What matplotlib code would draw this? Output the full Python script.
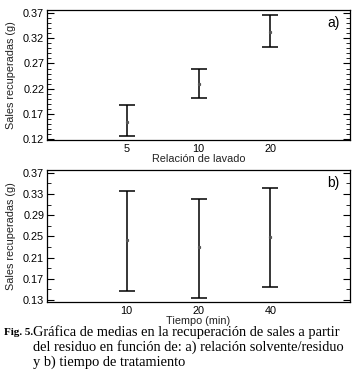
import numpy as np
import matplotlib
matplotlib.use('Agg')
import matplotlib.pyplot as plt
from matplotlib.ticker import FixedLocator, FormatStrFormatter

plt.rcParams['font.family'] = ['Liberation Sans', 'DejaVu Sans']

# datos
rel_lavado = ['5', '10', '20']
media_a = [0.1536, 0.2298, 0.3325]
inf_a = [0.1265, 0.2010, 0.3017]
sup_a = [0.1870, 0.2600, 0.3650]

tiempo = ['10', '20', '40']
media_b = [0.2439, 0.2300, 0.2490]
inf_b = [0.1466, 0.1332, 0.1543]
sup_b = [0.3367, 0.3214, 0.3406]

# marcas del eje y
ticks_a = [0.12, 0.17, 0.22, 0.27, 0.32, 0.37]
ticks_b = [0.13, 0.17, 0.21, 0.25, 0.29, 0.33, 0.37]

fig = plt.figure(figsize=(3.55, 3.87), dpi=100)
ax1 = fig.add_axes([0.1324, 0.638, 0.8536, 0.336])
ax2 = fig.add_axes([0.1324, 0.2204, 0.8536, 0.3406])


def panel(ax, cats, med, lo, hi, ylim, ticks, nmin, xlabel, tag):
    x = np.arange(1, len(cats) + 1)
    med = np.array(med)
    err = [med - np.array(lo), np.array(hi) - med]
    ax.errorbar(x, med, yerr=err, fmt='none', ecolor='black', elinewidth=1.1,
                capsize=6, capthick=1.1)
    ax.plot(x, med, ls='none', marker='s', ms=1.3, color='#555555')
    ax.set_xlim(-0.105, 4.105)
    ax.set_ylim(*ylim)
    ax.set_xticks(x)
    ax.set_xticklabels(cats)
    ax.tick_params(axis='x', length=0, labelsize=7.8, pad=3)
    paso = (ticks[1] - ticks[0]) / nmin
    menores = np.arange(ticks[0] - 3 * paso, ticks[-1] + 3 * paso, paso)
    ax.yaxis.set_major_locator(FixedLocator(ticks))
    ax.yaxis.set_minor_locator(FixedLocator(menores))
    ax.yaxis.set_major_formatter(FormatStrFormatter('%.2f'))
    ax.tick_params(axis='y', which='both', direction='in', right=True, labelsize=7.8, pad=2)
    ax.tick_params(axis='y', which='major', length=5)
    ax.tick_params(axis='y', which='minor', length=3)
    ax.set_xlabel(xlabel, fontsize=7.8, labelpad=0, color='#222222')
    ax.set_ylabel('Sales recuperadas (g)', fontsize=7.8, labelpad=5, color='#222222')
    ax.text(0.965, 0.9, tag, transform=ax.transAxes, ha='right', va='center', fontsize=10)
    for s in ax.spines.values():
        s.set_linewidth(0.9)


panel(ax1, rel_lavado, media_a, inf_a, sup_a, (0.1185, 0.3755), ticks_a, 5,
      'Relación de lavado', 'a)')
panel(ax2, tiempo, media_b, inf_b, sup_b, (0.1268, 0.3756), ticks_b, 2,
      'Tiempo (min)', 'b)')

fig.text(0.012, 0.142, 'Fig. 5.', family='Liberation Serif', weight='bold', fontsize=8, va='center')
cap = ['Gráfica de medias en la recuperación de sales a partir',
       'del residuo en función de: a) relación solvente/residuo',
       'y b) tiempo de tratamiento']
for i, linea in enumerate(cap):
    fig.text(0.093, 0.142 - i * 0.0388, linea, family='Liberation Serif', fontsize=10.4, va='center')

plt.savefig('out.png', dpi=100)
